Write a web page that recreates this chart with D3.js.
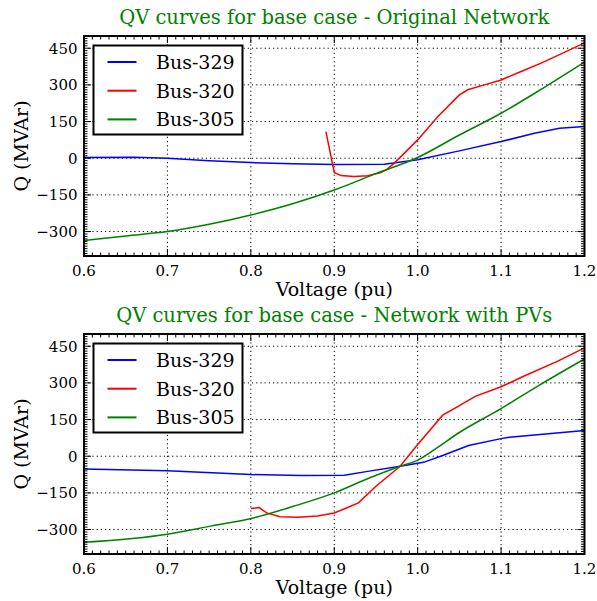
<!DOCTYPE html>
<html>
<head>
<meta charset="utf-8">
<script src="https://cdn.jsdelivr.net/npm/d3@7/dist/d3.min.js"></script>
<style>
  html, body { margin: 0; padding: 0; background: #fff; }
  svg { display: block; }
</style>
</head>
<body>
<svg id="chart" width="597" height="601"></svg>
<script>
// QV curves for three buses, original network vs network with PVs
const seriesNames = ["Bus-329", "Bus-320", "Bus-305"];
const seriesColors = ["#0000ff", "#ff0000", "#008000"];
const panelTitles = [
  "QV curves for base case - Original Network",
  "QV curves for base case - Network with PVs"
];
const xTicks = [0.6, 0.7, 0.8, 0.9, 1.0, 1.1, 1.2];
const yTicks = [-300, -150, 0, 150, 300, 450];

// Original network
const v329a = [0.60, 0.66, 0.70, 0.75, 0.80, 0.85, 0.90, 0.96, 1.00, 1.05, 1.10, 1.14, 1.17, 1.20];
const q329a = [3, 4, 0, -10, -18, -23, -26, -25, -6, 30, 68, 102, 123, 130];
const v320a = [0.89, 0.90, 0.908, 0.924, 0.94, 0.956, 0.962, 0.972, 1.00, 1.024, 1.05, 1.06, 1.08, 1.10, 1.124, 1.148, 1.172, 1.20];
const q320a = [109, -58, -71, -75, -72, -59, -48, -20, 75, 170, 259, 280, 300, 320, 355, 389, 427, 472];
const v305a = [0.60, 0.65, 0.70, 0.75, 0.80, 0.85, 0.90, 0.95, 1.00, 1.05, 1.10, 1.15, 1.20];
const q305a = [-337, -318, -300, -270, -232, -186, -130, -63, 3, 95, 184, 286, 393];

// Network with PVs
const v329b = [0.60, 0.70, 0.80, 0.86, 0.912, 0.942, 0.979, 1.007, 1.03, 1.061, 1.10, 1.11, 1.20];
const q329b = [-52, -59, -75, -79, -78, -61, -41, -25, 3, 44, 72, 78, 105];
const v320b = [0.80, 0.81, 0.819, 0.835, 0.856, 0.88, 0.90, 0.913, 0.929, 0.95, 0.979, 1.00, 1.03, 1.049, 1.069, 1.10, 1.127, 1.168, 1.20];
const q320b = [-214, -210, -232, -248, -250, -245, -232, -214, -191, -123, -41, 48, 168, 205, 245, 284, 327, 389, 443];
const v305b = [0.60, 0.70, 0.752, 0.80, 0.851, 0.90, 0.942, 0.979, 1.00, 1.02, 1.049, 1.10, 1.147, 1.20];
const q305b = [-352, -319, -286, -255, -205, -150, -89, -41, -16, 27, 95, 195, 293, 398];

const panels = [
  { title: panelTitles[0], top: 36, series: [[v329a, q329a], [v320a, q320a], [v305a, q305a]] },
  { title: panelTitles[1], top: 334, series: [[v329b, q329b], [v320b, q320b], [v305b, q305b]] }
];

const FONT = "'DejaVu Serif', serif";
const svg = d3.select("#chart").attr("font-family", FONT);
const left = 84, right = 584.5, plotH = 220;
const green = "#008000";

panels.forEach(p => {
  const g = svg.append("g");
  const x = d3.scaleLinear().domain([0.6, 1.2]).range([left, right]);
  const y = d3.scaleLinear().domain([-400, 500]).range([p.top + plotH, p.top]);

  // dotted grid
  g.append("g").selectAll("line").data(xTicks.slice(1, -1)).join("line")
    .attr("x1", d => x(d)).attr("x2", d => x(d))
    .attr("y1", p.top).attr("y2", p.top + plotH)
    .attr("stroke", "#000").attr("stroke-width", 1).attr("stroke-dasharray", "1.2,3");
  g.append("g").selectAll("line").data(yTicks).join("line")
    .attr("x1", left).attr("x2", right)
    .attr("y1", d => y(d)).attr("y2", d => y(d))
    .attr("stroke", "#000").attr("stroke-width", 1).attr("stroke-dasharray", "1.2,3");

  // curves (Bus-305 is a smooth curve, the others keep their corners)
  const clipId = "clip" + p.top;
  g.append("clipPath").attr("id", clipId).append("rect")
    .attr("x", left).attr("y", p.top).attr("width", right - left).attr("height", plotH);
  p.series.forEach((s, i) => {
    const pts = s[0].map((v, k) => [v, s[1][k]]);
    const line = d3.line().x(d => x(d[0])).y(d => y(d[1]))
      .curve(i === 2 ? d3.curveMonotoneX : d3.curveLinear);
    g.append("path").datum(pts).attr("d", line)
      .attr("fill", "none").attr("stroke", seriesColors[i])
      .attr("stroke-width", 1.5).attr("clip-path", `url(#${clipId})`);
  });

  // inward ticks on all four sides
  const ticks = g.append("g").attr("stroke", "#000").attr("stroke-width", 1);
  const xMinor = d3.range(60, 121).map(d => d / 100);
  const yMinor = d3.range(-400, 501, 10);
  const majLen = 7, minLen = 3.5;
  xMinor.forEach(v => {
    const isMaj = Math.abs(v * 10 - Math.round(v * 10)) < 1e-6;
    const len = isMaj ? majLen : minLen;
    ticks.append("line").attr("x1", x(v)).attr("x2", x(v)).attr("y1", p.top + plotH).attr("y2", p.top + plotH - len);
    ticks.append("line").attr("x1", x(v)).attr("x2", x(v)).attr("y1", p.top).attr("y2", p.top + len);
  });
  yMinor.forEach(v => {
    const isMaj = yTicks.includes(v);
    const len = isMaj ? majLen : minLen;
    ticks.append("line").attr("x1", left).attr("x2", left + len).attr("y1", y(v)).attr("y2", y(v));
    ticks.append("line").attr("x1", right).attr("x2", right - len).attr("y1", y(v)).attr("y2", y(v));
  });

  // frame
  g.append("rect").attr("x", left).attr("y", p.top).attr("width", right - left).attr("height", plotH)
    .attr("fill", "none").attr("stroke", "#000").attr("stroke-width", 2);

  // tick labels
  g.append("g").selectAll("text").data(xTicks).join("text")
    .attr("x", d => x(d)).attr("y", p.top + plotH + 19.5)
    .attr("text-anchor", "middle").attr("font-size", 15).attr("fill", "#000")
    .text(d => d3.format(".1f")(d));
  g.append("g").selectAll("text").data(yTicks).join("text")
    .attr("x", left - 6.5).attr("y", d => y(d)).attr("dy", "0.36em")
    .attr("text-anchor", "end").attr("font-size", 15).attr("fill", "#000")
    .text(d => d < 0 ? "\u2212" + Math.abs(d) : d);

  // axis labels and title
  g.append("text").attr("x", (left + right) / 2).attr("y", p.top + plotH + 40)
    .attr("text-anchor", "middle").attr("font-size", 19).attr("fill", "#000").text("Voltage (pu)");
  g.append("text").attr("transform", `translate(28,${p.top + plotH / 2}) rotate(-90)`)
    .attr("text-anchor", "middle").attr("font-size", 19).attr("fill", "#000").text("Q (MVAr)");
  g.append("text").attr("x", (left + right) / 2).attr("y", p.top - 12)
    .attr("text-anchor", "middle").attr("font-size", 19.5).attr("fill", green).text(p.title);

  // legend
  const lg = g.append("g").attr("transform", `translate(93.5,${p.top + 9.5})`);
  lg.append("rect").attr("width", 149).attr("height", 89)
    .attr("fill", "#fff").attr("stroke", "#000").attr("stroke-width", 2);
  seriesNames.forEach((name, i) => {
    const ry = 16.5 + i * 28.7;
    lg.append("line").attr("x1", 14).attr("x2", 43).attr("y1", ry).attr("y2", ry)
      .attr("stroke", seriesColors[i]).attr("stroke-width", 2);
    lg.append("text").attr("x", 62.5).attr("y", ry).attr("dy", "0.36em")
      .attr("font-size", 19).attr("fill", "#000").text(name);
  });
});
</script>
</body>
</html>
